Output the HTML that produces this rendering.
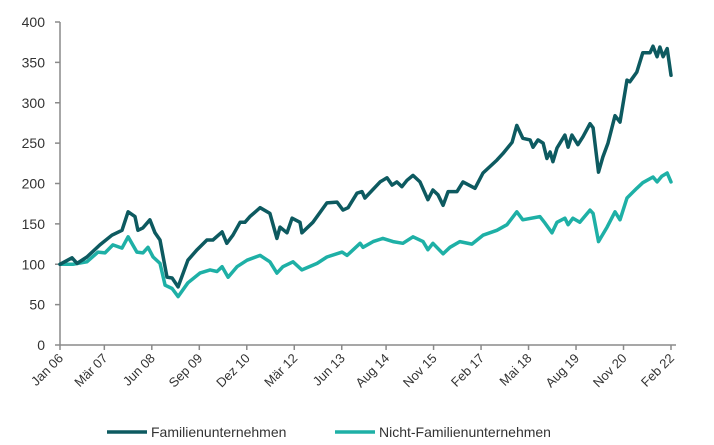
<!DOCTYPE html>
<html><head><meta charset="utf-8"><style>
html,body{margin:0;padding:0;background:#fff;width:714px;height:445px;overflow:hidden;font-family:"Liberation Sans",sans-serif}
</style></head><body>
<svg id="chart" width="714" height="445" xmlns="http://www.w3.org/2000/svg"></svg>
<script>
const yTicks=[0,50,100,150,200,250,300,350,400];
const xTickLabels=["Jan 06","Mär 07","Jun 08","Sep 09","Dez 10","Mär 12","Jun 13","Aug 14","Nov 15","Feb 17","Mai 18","Aug 19","Nov 20","Feb 22"];
const xTickMonths=[0,14,29,44,59,74,89,103,118,133,148,163,178,193];
const famMonths=[0,3.8,5.4,8.5,12.6,16.4,19.6,21.5,23.7,24.6,26.2,28.4,30,31.6,33.8,35.4,37.3,40.4,43.3,46.4,48.3,51.2,52.7,54.6,56.9,58.4,60,63.2,66.3,68.5,69.5,71.7,73.3,75.8,76.4,79.9,84.3,87.5,89.4,91,93.8,95.4,96.3,101.1,103.3,104.9,106.4,108,109.6,111.5,113.7,116.2,117.8,119.4,121,122.6,125.4,127.3,131.1,133.6,138,139.9,142.8,144.3,146.2,148.5,149.4,151,152.6,153.8,154.8,155.7,157,159.5,160.5,161.7,163.6,165.2,167.4,168.4,170.1,171.5,173.1,175.3,176.9,179.1,180,182.2,184.1,186.4,187.3,188.6,189.5,190.5,191.8,193];
const famValues=[100,108,101,109,124,136,142,165,159,142,145,155,139,130,84,83,72,105,118,130,130,140,126,136,152,152,159,170,163,132,146,139,157,152,139,152,176,177,167,170,188,190,182,202,207,198,202,196,204,210,202,180,192,186,173,190,190,202,194,213,229,237,251,272,256,254,245,254,250,231,239,227,244,260,245,260,248,258,274,269,214,233,250,284,276,328,326,338,362,362,370,357,369,357,367,334];
const nfMonths=[0,4.1,8.5,12,14.2,16.7,19.6,21.5,24.3,26.2,27.8,29.4,31.6,33.2,35.4,37.3,40.4,44.2,47.4,49.6,51.2,53.1,55.9,59.1,63.2,66.3,68.5,70.4,73.6,76.4,81.2,84.3,89.1,90.7,94.8,95.7,98.9,102,105.2,108.3,111.5,114.7,116.2,117.8,121,123.2,126.3,130.1,133.6,138,141.2,144.3,146.2,151.6,153.2,155.4,157,159.5,160.5,162,164.2,167.4,168.4,170.1,172.8,175.3,176.9,179.1,182.2,184.1,187.3,188.6,190.1,191.8,193];
const nfValues=[100,100,103,115,114,124,120,134,115,114,121,109,101,74,70,60,77,89,93,91,97,84,97,105,111,103,89,97,103,93,101,109,115,111,126,121,128,132,128,126,134,128,118,126,113,121,128,125,136,142,149,165,155,159,151,139,152,157,149,157,152,167,163,128,146,165,155,182,194,201,208,202,209,213,202];

const svg=document.getElementById('chart');
const NS='http://www.w3.org/2000/svg';
const X0=60,X1=671,Y0=345,Y1=22;
const xs=m=>X0+(X1-X0)*m/193;
const ys=v=>Y0-(Y0-Y1)*v/400;
function mk(t,a,p){const e=document.createElementNS(NS,t);for(const k in a)e.setAttribute(k,a[k]);(p||svg).appendChild(e);return e;}

const ax=mk('g',{});


let l=mk('line',{x1:X0,y1:Y1,x2:X0,y2:Y0,stroke:'#8a8a8a','stroke-width':1.5},ax);

l=mk('line',{x1:X0,y1:Y0,x2:X1+5,y2:Y0,stroke:'#8a8a8a','stroke-width':1.5},ax);

yTicks.forEach(v=>{
  const t=mk('line',{x1:X0-5,y1:ys(v),x2:X0,y2:ys(v),stroke:'#8a8a8a','stroke-width':1.5},ax);
  
  const tx=mk('text',{x:X0-15,y:ys(v)+5,'text-anchor':'end','font-size':14,fill:'#333'},ax);
  
  tx.textContent=v;
});
xTickMonths.forEach((m,i)=>{
  const x=xs(m);
  const t=mk('line',{x1:x,y1:Y0,x2:x,y2:Y0+5,stroke:'#8a8a8a','stroke-width':1.5},ax);
  
  const tx=mk('text',{x:x+4,y:Y0+14,'text-anchor':'end','font-size':13,fill:'#333',transform:`rotate(-45 ${x+4} ${Y0+14})`},ax);
  
  tx.textContent=xTickLabels[i];
});
function line(ms,vs,col,name){
  const d=ms.map((m,i)=>(i?'L':'M')+xs(m).toFixed(1)+','+ys(vs[i]).toFixed(1)).join('');
  const p=mk('path',{d:d,fill:'none',stroke:col,'stroke-width':3.5,'stroke-linejoin':'round','stroke-linecap':'round'});
  
}
line(nfMonths,nfValues,'#1eb0a6','series-nicht-familienunternehmen');
line(famMonths,famValues,'#0d5a60','series-familienunternehmen');

const lg=mk('g',{});

[[107,'#0d5a60','Familienunternehmen'],[335,'#1eb0a6','Nicht-Familienunternehmen']].forEach(e=>{
  const g=mk('g',{},lg);
  
  mk('line',{x1:e[0],y1:432,x2:e[0]+40,y2:432,stroke:e[1],'stroke-width':3.5},g);
  const t=mk('text',{x:e[0]+44,y:437,'font-size':14,fill:'#333'},g);
  t.textContent=e[2];
});
</script>
</body></html>
